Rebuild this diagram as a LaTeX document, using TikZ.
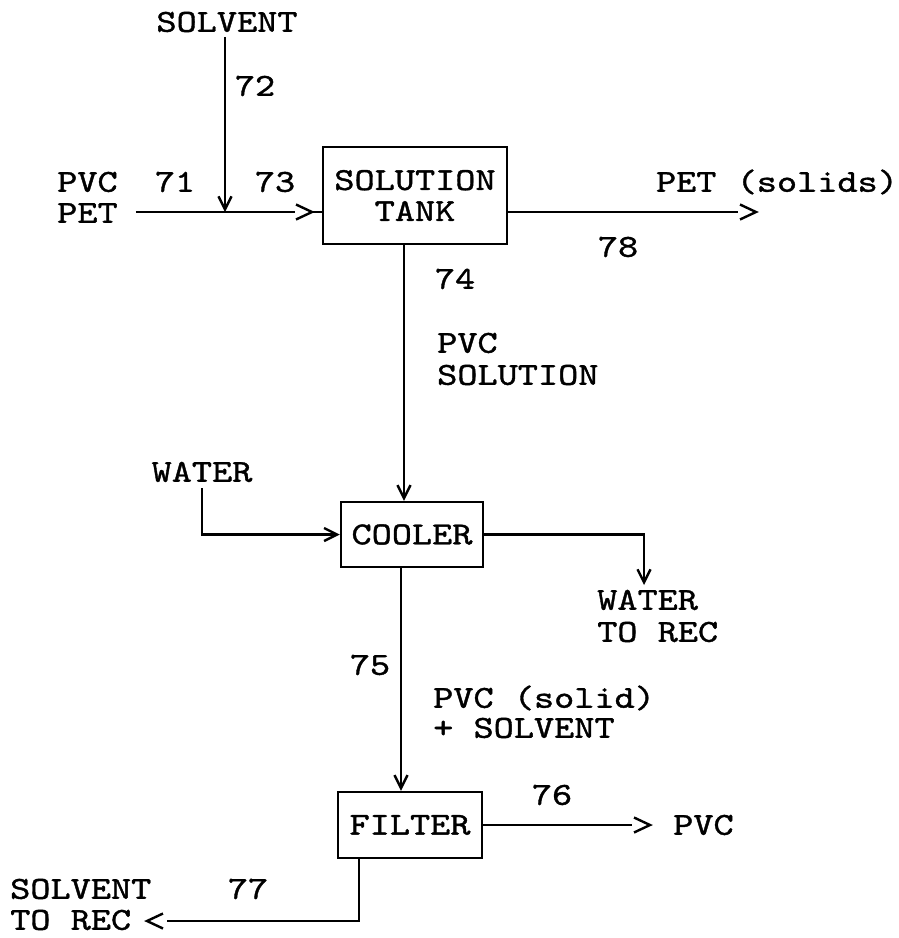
\documentclass[tikz,border=0pt]{standalone}
\usepackage{fontspec}
\setmainfont{lmmono10-regular.otf}[FakeStretch=1.2, FakeBold=1.2]
\usetikzlibrary{arrows.meta}
\begin{document}
\begin{tikzpicture}[x=1pt,y=-1pt,
  lbl/.style={inner sep=0pt, text height=19.5pt, text depth=0pt, font=\fontsize{32}{31}\selectfont},
  unit/.style={draw, line width=2.5pt, inner sep=0pt, font=\fontsize{32}{31}\selectfont, align=center},
  flow/.style={line width=2.4pt},
  barb/.style={flow, -{Straight Barb[length=13pt,width=13pt]}},
  chevR/.pic={\draw[line width=2.4pt, line join=miter] (-16,-7.5) -- (0,0) -- (-16,7.5);},
]
\useasboundingbox (0,0) rectangle (899,938);

% labels
\node[lbl] (solv) at (227,22) {SOLVENT};
\node[lbl] (n72) at (255,86) {72};
\node[lbl,anchor=west] (pvc1) at (57,182) {PVC};
\node[lbl,anchor=west] (pet1) at (57,213) {PET};
\node[lbl] (n71) at (175,182) {71};
\node[lbl] (n73) at (275,182) {73};
\node[lbl] (petsol) at (777,182) {PET (solids)};
\node[lbl] (n78) at (618,247) {78};
\node[lbl] (n74) at (455,279) {74};
\node[lbl,anchor=west] (pvcs1) at (437,343) {PVC};
\node[lbl,anchor=west] (pvcs2) at (437,375) {SOLUTION};
\node[lbl] (water) at (202,472) {WATER};
\node[lbl,anchor=west] (wr1) at (597,600) {WATER};
\node[lbl,anchor=west] (wr2) at (597,632) {TO REC};
\node[lbl] (n75) at (370,665) {75};
\node[lbl,anchor=west] (ps1) at (433,698) {PVC (solid)};
\node[lbl,anchor=west] (ps2) at (433,728) {+ SOLVENT};
\node[lbl] (n76) at (552,795) {76};
\node[lbl,anchor=west] (pvcout) at (673,825) {PVC};
\node[lbl] (n77) at (248,889) {77};
\node[lbl,anchor=west] (sr1) at (10,889) {SOLVENT};
\node[lbl,anchor=west] (sr2) at (10,920) {TO REC};

% units
\node[unit, minimum width=184pt, minimum height=97pt] (tank) at (415,195.5) {SOLUTION\\TANK};
\node[unit, minimum width=142pt, minimum height=65pt] (cooler) at (412,534.5) {COOLER};
\node[unit, minimum width=144pt, minimum height=66pt] (filter) at (410,825) {FILTER};

% coordinates
\coordinate (j) at (225,212);
\coordinate (c73) at (312,212);
\coordinate (c78) at (756,212);
\coordinate (x74) at (404,0);
\coordinate (wo) at (644,585);
\coordinate (x75) at (401,0);
\coordinate (c76) at (650,825);
\coordinate (c77) at (147,921);
\coordinate (x77) at (359,0);

% connectors
\draw[barb] ([yshift=-5pt]solv.south -| j) -- (j);
\draw[flow] ([xshift=18pt]pet1.east |- j) -- ([xshift=-17pt]c73);
\pic at (c73) {chevR};
\draw[flow] (c73) -- (c73 -| tank.west);
\draw[flow] (c78 -| tank.east) -- ([xshift=-18pt]c78);
\pic at (c78) {chevR};
\draw[barb] (tank.south -| x74) -- (cooler.north -| x74);
\draw[barb] ([yshift=-6.5pt]water.south) -- (water.south |- cooler.west) -- (cooler.west);
\draw[barb] (cooler.east) -- (cooler.east -| wo) -- (wo);
\draw[barb] (cooler.south -| x75) -- (filter.north -| x75);
\draw[flow] (filter.east) -- ([xshift=-18pt]c76);
\pic at (c76) {chevR};
\draw[flow] (filter.south -| x77) -- (x77 |- c77) -- ([xshift=20pt]c77);
\pic[rotate=180] at (c77) {chevR};
\end{tikzpicture}
\end{document}
